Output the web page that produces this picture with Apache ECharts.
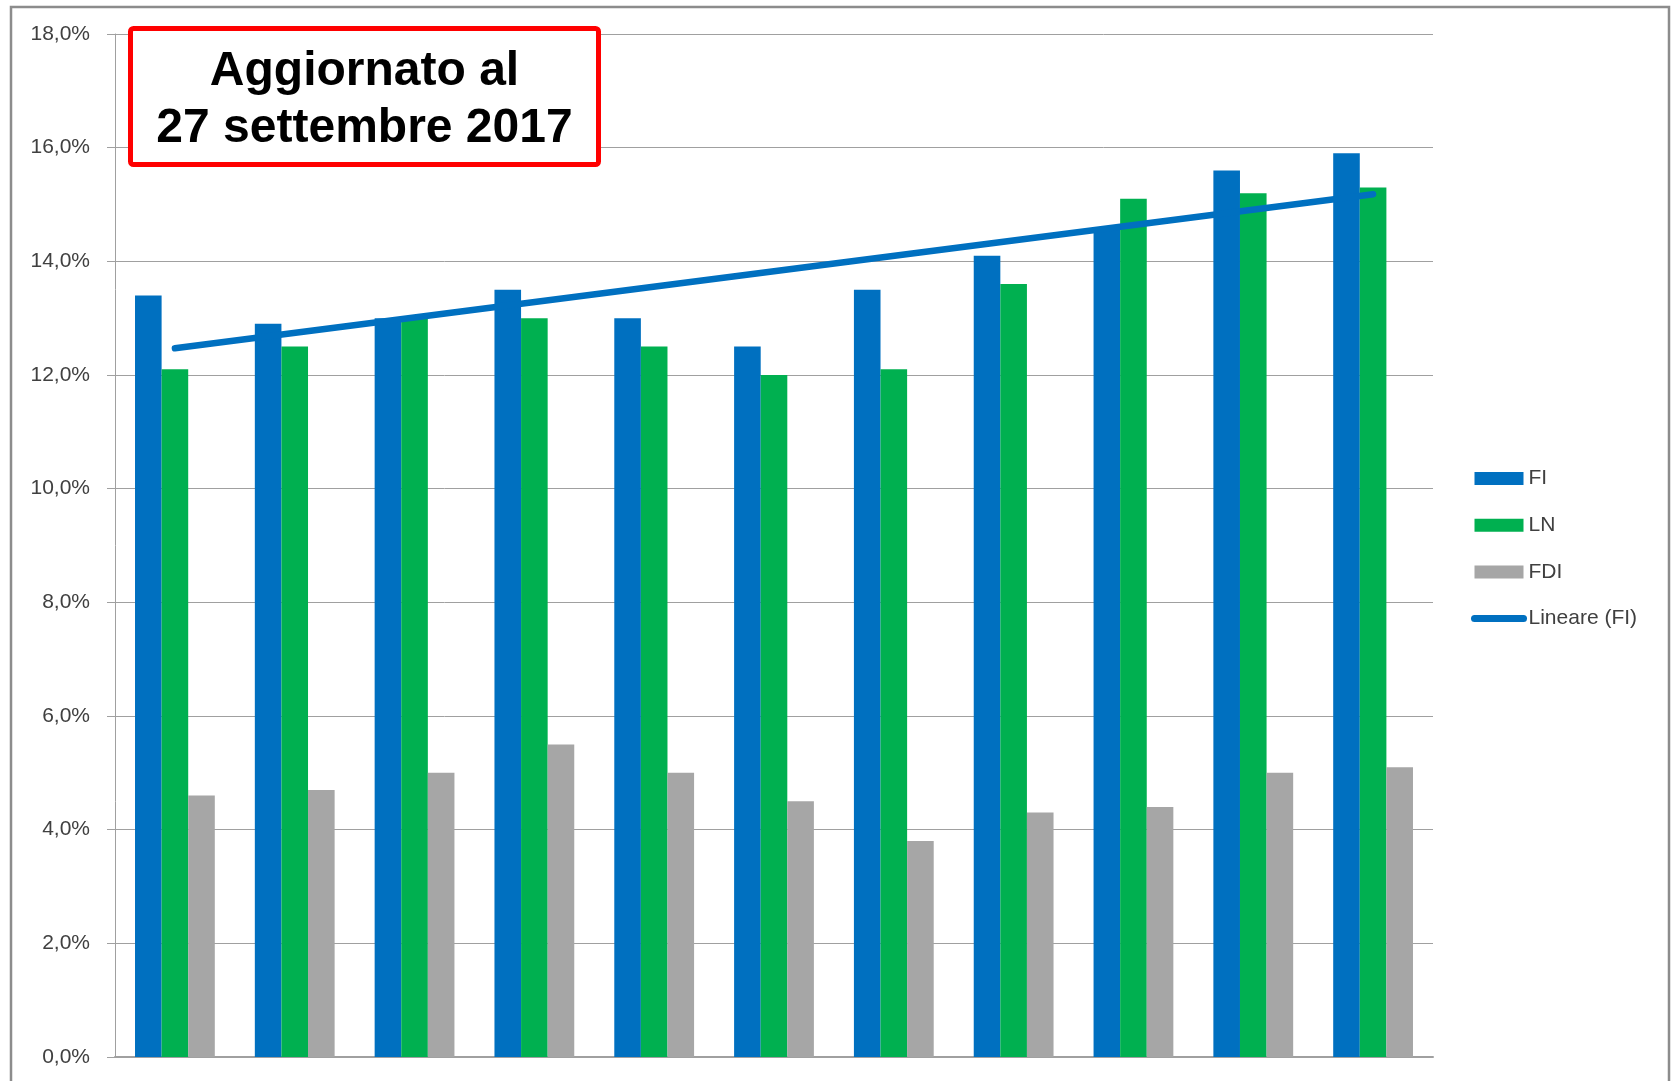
<!DOCTYPE html>
<html>
<head>
<meta charset="utf-8">
<title>FI LN FDI</title>
<script src="https://cdn.jsdelivr.net/npm/echarts@6/dist/echarts.min.js"></script>
<style>
  html, body { margin: 0; padding: 0; background: #fff; }
  #chart { width: 1677px; height: 1081px; }
</style>
</head>
<body>
<div id="chart"></div>
<script>
// categorie (nessuna etichetta visibile sull'asse x)
const categories = ['1', '2', '3', '4', '5', '6', '7', '8', '9', '10', '11']

// valori in %
const fiValues = [13.4, 12.9, 13.0, 13.5, 13.0, 12.5, 13.5, 14.1, 14.6, 15.6, 15.9]
const lnValues = [12.1, 12.5, 13.0, 13.0, 12.5, 12.0, 12.1, 13.6, 15.1, 15.2, 15.3]
const fdiValues = [4.6, 4.7, 5.0, 5.5, 5.0, 4.5, 3.8, 4.3, 4.4, 5.0, 5.1]

// linea di tendenza (inizio e fine)
const trendStart = 12.47
const trendEnd = 15.18

const seriesNames = ['FI', 'LN', 'FDI', 'Lineare (FI)']
const colors = ['#0070C0', '#00B050', '#A6A6A6']

const titleLines = ['Aggiornato al', '27 settembre 2017']

const trendData = categories.map((c, i) => {
  if (i === 0) return trendStart
  if (i === categories.length - 1) return trendEnd
  return null
})

const labelFont = 'Liberation Sans'

const chart = echarts.init(document.getElementById('chart'))

const option = {
  backgroundColor: '#fff',
  animation: false,
  grid: { left: 115, right: 244, top: 34, bottom: 24 },
  legend: {
    orient: 'vertical',
    left: 1466,
    top: 463,
    itemGap: 25.7,
    itemWidth: 49,
    itemHeight: 13,
    textStyle: { fontFamily: labelFont, fontSize: 21, color: '#404040' },
    data: [
      { name: 'FI', icon: 'rect' },
      { name: 'LN', icon: 'rect' },
      { name: 'FDI', icon: 'rect' },
      // solo la linea, senza simbolo
      {
        name: 'Lineare (FI)',
        itemStyle: { opacity: 0 },
        lineStyle: { width: 7, cap: 'round', color: colors[0] }
      }
    ]
  },
  xAxis: {
    type: 'category',
    data: categories,
    axisLine: { lineStyle: { color: '#A0A0A0', width: 2 } },
    axisTick: { show: false },
    axisLabel: { show: false }
  },
  yAxis: {
    type: 'value',
    min: 0,
    max: 18,
    interval: 2,
    axisLine: { show: true, lineStyle: { color: '#A0A0A0', width: 1 } },
    axisTick: { show: true, length: 8, lineStyle: { color: '#A0A0A0' } },
    splitLine: { lineStyle: { color: '#A0A0A0', width: 1 } },
    axisLabel: {
      margin: 25,
      fontFamily: labelFont,
      fontSize: 21,
      color: '#404040',
      formatter: v => v.toFixed(1).replace('.', ',') + '%'
    }
  },
  series: [
    {
      name: seriesNames[0],
      type: 'bar',
      data: fiValues,
      barGap: '0%',
      barCategoryGap: '33.4%',
      itemStyle: { color: colors[0] }
    },
    {
      name: seriesNames[1],
      type: 'bar',
      data: lnValues,
      barGap: '0%',
      barCategoryGap: '33.4%',
      itemStyle: { color: colors[1] }
    },
    {
      name: seriesNames[2],
      type: 'bar',
      data: fdiValues,
      barGap: '0%',
      barCategoryGap: '33.4%',
      itemStyle: { color: colors[2] }
    },
    {
      name: seriesNames[3],
      type: 'line',
      data: trendData,
      connectNulls: true,
      symbol: 'none',
      z: 5,
      color: colors[0],
      lineStyle: { color: colors[0], width: 6.5, cap: 'round' }
    }
  ],
  graphic: [
    // cornice esterna
    {
      type: 'rect',
      silent: true,
      z: 0,
      shape: { x: 11, y: 7, width: 1658, height: 1100 },
      style: { fill: 'none', stroke: '#8C8C8C', lineWidth: 2.5 }
    },
    // riquadro rosso con la data
    {
      type: 'rect',
      z: 10,
      shape: { x: 130.5, y: 28.5, width: 468, height: 136, r: 3 },
      style: { fill: '#fff', stroke: '#FF0000', lineWidth: 5 }
    },
    {
      type: 'text',
      z: 11,
      style: {
        x: 364.5,
        y: 72,
        text: titleLines[0],
        fill: '#000',
        font: 'bold 48px "Liberation Sans", Arial, sans-serif',
        textAlign: 'center',
        textVerticalAlign: 'middle'
      }
    },
    {
      type: 'text',
      z: 11,
      style: {
        x: 364.5,
        y: 129,
        text: titleLines[1],
        fill: '#000',
        font: 'bold 48px "Liberation Sans", Arial, sans-serif',
        textAlign: 'center',
        textVerticalAlign: 'middle'
      }
    }
  ]
}

chart.setOption(option)
</script>
</body>
</html>
